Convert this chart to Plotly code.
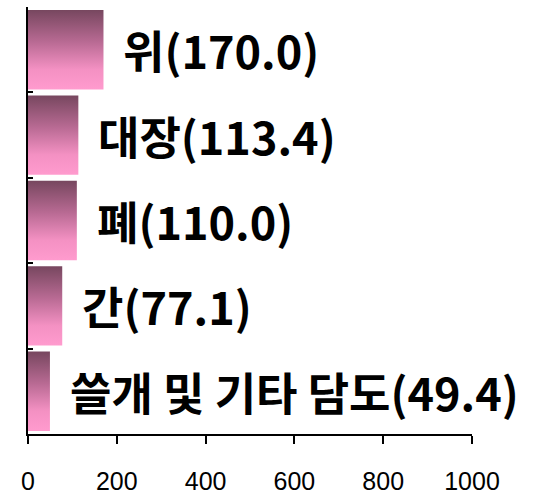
"""Horizontal bar chart with vertical gradient bars and bold Korean labels."""

import plotly.graph_objects as go

categories = ["위", "대장", "폐", "간", "쓸개 및 기타 담도"]
values = [170.0, 113.4, 110.0, 77.1, 49.4]
x_ticks = [0, 200, 400, 600, 800, 1000]

BAR_WIDTH = 0.93
GRADIENT = [
    [0.0, "#ff9bce"],
    [0.25, "#f491c3"],
    [0.6, "#b86a93"],
    [1.0, "#77475f"],
]

n = len(categories)
fig = go.Figure()

for i, (cat, val) in enumerate(zip(categories, values)):
    pos = n - 1 - i  # first category at top
    y0, y1 = pos - BAR_WIDTH / 2, pos + BAR_WIDTH / 2
    fig.add_trace(go.Scatter(
        x=[0, val, val, 0, 0],
        y=[y0, y0, y1, y1, y0],
        mode='lines',
        line=dict(width=0),
        fill='toself',
        fillgradient=dict(type='vertical', colorscale=GRADIENT),
        hovertemplate=f'{cat}: {val:.1f}<extra></extra>',
        showlegend=False,
    ))
    fig.add_annotation(
        x=val, y=pos, text=f"{cat}({val:.1f})",
        xanchor='left', yanchor='middle', xshift=18, showarrow=False,
        font=dict(family="Noto Sans CJK KR", size=45, color='black', weight='bold'),
    )

fig.update_layout(
    width=535, height=502,
    margin=dict(l=28, r=63, t=7, b=59),
    paper_bgcolor='white',
    plot_bgcolor='white',
    xaxis=dict(
        range=[0, 1000], tickvals=x_ticks, ticks='outside', ticklen=8, tickwidth=2,
        tickcolor='black', showline=True, linecolor='black', linewidth=2,
        showgrid=False, zeroline=False, ticklabelstandoff=16,
        tickfont=dict(family="Liberation Sans, Arial", size=25, color='black'),
    ),
    yaxis=dict(
        range=[-0.5, n - 0.5], tickvals=[k - 0.5 for k in range(n + 1)], showticklabels=False,
        ticks='inside', ticklen=5, tickwidth=2, tickcolor='black',
        showline=True, linecolor='black', linewidth=2, showgrid=False, zeroline=False,
    ),
)

fig.write_html(
    "out.html",
    config={'displayModeBar': False},
    post_script="document.body.style.margin='0';",
)
